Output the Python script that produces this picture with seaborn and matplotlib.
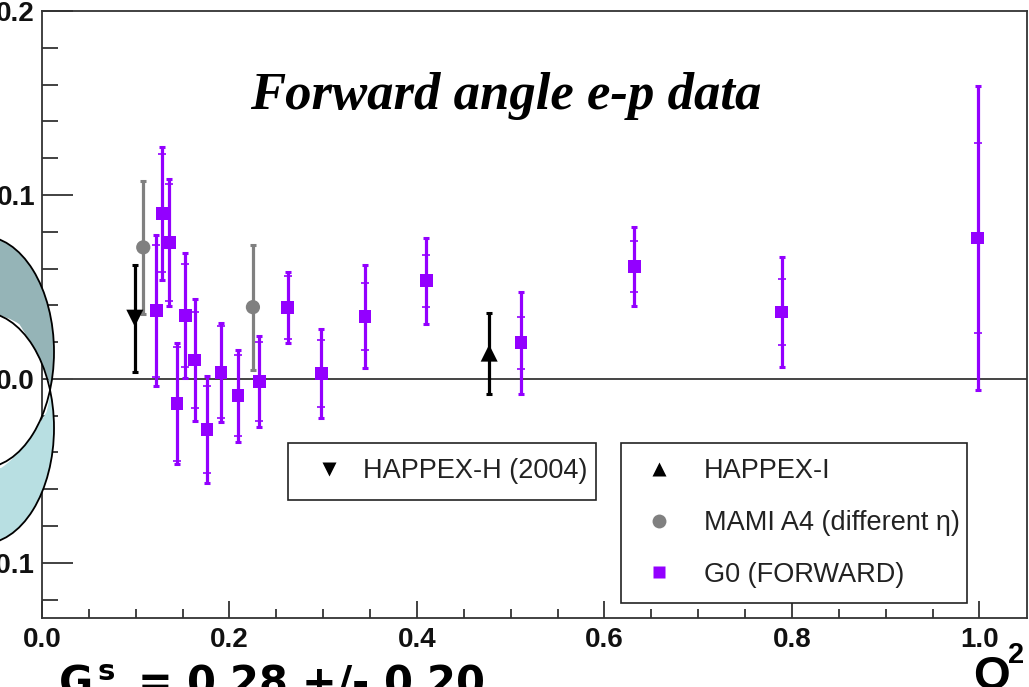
import numpy as np
import pandas as pd
import matplotlib
matplotlib.use("Agg")
import matplotlib.pyplot as plt
import seaborn as sns
from matplotlib.lines import Line2D
from matplotlib.patches import Ellipse, PathPatch
from matplotlib.path import Path

# ---- data: G_E^s + eta G_M^s versus Q^2 ----
happex_h_q2 = [0.099]
happex_h_val = [0.033]
happex_h_err = [0.029]

happex_i_q2 = [0.477]
happex_i_val = [0.014]
happex_i_err = [0.022]

mami_q2 = [0.108, 0.225]
mami_val = [0.0715, 0.039]
mami_err = [0.036, 0.034]

g0_q2 = [0.122, 0.128, 0.136, 0.144, 0.153, 0.163, 0.176, 0.191, 0.209,
         0.232, 0.262, 0.298, 0.3445, 0.410, 0.511, 0.632, 0.789, 0.998]
g0_val = [0.037, 0.090, 0.0742, -0.0134, 0.0346, 0.0103, -0.0276, 0.0036, -0.0091,
          -0.0016, 0.0389, 0.0029, 0.0339, 0.0533, 0.0196, 0.0609, 0.0364, 0.0766]
g0_tot = [0.041, 0.036, 0.0346, 0.033, 0.034, 0.033, 0.029, 0.027, 0.025,
          0.0247, 0.0192, 0.024, 0.028, 0.0235, 0.0277, 0.0214, 0.0298, 0.0826]
g0_stat = [0.036, 0.032, 0.032, 0.031, 0.028, 0.026, 0.0236, 0.025, 0.022,
           0.0215, 0.017, 0.018, 0.018, 0.014, 0.0142, 0.0139, 0.018, 0.0518]

x_ticks = [0.0, 0.2, 0.4, 0.6, 0.8, 1.0]
x_tick_labels = ["0.0", "0.2", "0.4", "0.6", "0.8", "1.0"]
y_ticks = [-0.1, 0.0, 0.1, 0.2]
y_tick_labels = ["-0.1", "0.0", "0.1", "0.2"]

legend_left = ["HAPPEX-H (2004)"]
legend_right = ["HAPPEX-I", "MAMI A4 (different \u03b7)", "G0 (FORWARD)"]
title_text = "Forward angle e-p data"
result_text = r"$\mathbf{G_M^{\,s}}$ = 0.28 +/- 0.20"

PURPLE = "#9300ff"
GREY = "#808080"

sns.set_theme(style="white")
plt.rcParams["font.family"] = ["Liberation Sans", "DejaVu Sans"]

W, H = 1029, 687
fig = plt.figure(figsize=(W / 100, H / 100), dpi=100)
fig.patch.set_facecolor("white")


def fx(px):
    return px / W


def fy(py):
    return 1 - py / H


ax = fig.add_axes([fx(42), fy(618), fx(1027) - fx(42), fy(11) - fy(618)])
ax.set_facecolor("none")
ax.set_xlim(0, 1.0507)
ax.set_ylim(-0.13, 0.2)

ax.axhline(0, color="#444444", lw=1.4, zorder=1)

# G0: total error with end caps, statistical error as inner ticks
ax.errorbar(g0_q2, g0_val, yerr=g0_tot, fmt="none", ecolor=PURPLE,
            elinewidth=2.3, capsize=2.2, capthick=2.2, zorder=3)
ax.errorbar(g0_q2, g0_val, yerr=g0_stat, fmt="none", ecolor=PURPLE,
            elinewidth=0, capsize=3.0, capthick=1.2, zorder=3)
ax.errorbar(mami_q2, mami_val, yerr=mami_err, fmt="none", ecolor=GREY,
            elinewidth=2.3, capsize=2.2, capthick=2.2, zorder=2)
ax.errorbar(happex_h_q2, happex_h_val, yerr=happex_h_err, fmt="none", ecolor="black",
            elinewidth=2.3, capsize=2.2, capthick=2.2, zorder=2)
ax.errorbar(happex_i_q2, happex_i_val, yerr=happex_i_err, fmt="none", ecolor="black",
            elinewidth=2.3, capsize=2.2, capthick=2.2, zorder=2)

sns.scatterplot(x=mami_q2, y=mami_val, ax=ax, marker="o", s=105, color=GREY,
                edgecolor="none", zorder=4, legend=False)
sns.scatterplot(x=happex_h_q2, y=happex_h_val, ax=ax, marker="v", s=150, color="black",
                edgecolor="none", zorder=4, legend=False)
sns.scatterplot(x=happex_i_q2, y=happex_i_val, ax=ax, marker="^", s=150, color="black",
                edgecolor="none", zorder=4, legend=False)
sns.scatterplot(x=g0_q2, y=g0_val, ax=ax, marker="s", s=85, color=PURPLE,
                edgecolor="none", zorder=5, legend=False)

# frame and ticks
for side in ["left", "bottom", "top", "right"]:
    ax.spines[side].set_visible(True)
    ax.spines[side].set_color("#333333")
    ax.spines[side].set_linewidth(1.3)

ax.set_xticks(x_ticks)
ax.set_xticklabels(x_tick_labels)
ax.set_yticks(y_ticks)
ax.set_yticklabels(y_tick_labels)
ax.set_xticks(np.arange(0.05, 1.05, 0.05)[[i for i in range(20) if (i + 1) % 4 != 0]], minor=True)
ax.set_yticks([v for v in np.arange(-0.12, 0.2, 0.02) if abs(round(v * 10) - v * 10) > 1e-6], minor=True)
ax.tick_params(axis="both", which="both", direction="in", color="#333333", width=1.3,
               bottom=True, left=True, top=False, right=False)
ax.tick_params(axis="x", which="major", length=12.5, pad=6.5)
ax.tick_params(axis="x", which="minor", length=6.5)
ax.tick_params(axis="y", which="major", length=22, pad=5)
ax.tick_params(axis="y", which="minor", length=11.5)
for lab in ax.get_xticklabels() + ax.get_yticklabels():
    lab.set_fontsize(20)
    lab.set_fontweight("bold")
    lab.set_color("#111111")
ax.grid(False)

# legends
LFS = 19.5
leg_kw = dict(frameon=True, fancybox=False, framealpha=1, edgecolor="#222222",
              fontsize=LFS, borderaxespad=0, mode="expand", loc="upper left",
              bbox_transform=fig.transFigure, borderpad=0.57)
h1 = [Line2D([], [], ls="none", marker="v", ms=10, color="black", mec="none")]
leg1 = ax.legend(h1, legend_left,
                 bbox_to_anchor=(fx(288), fy(443) - 0.2, fx(596) - fx(288), 0.2),
                 handlelength=1.92, handletextpad=0.29, **leg_kw)
leg1.get_frame().set_linewidth(1.2)
ax.add_artist(leg1)
h2 = [Line2D([], [], ls="none", marker="^", ms=10, color="black", mec="none"),
      Line2D([], [], ls="none", marker="o", ms=10, color=GREY, mec="none"),
      Line2D([], [], ls="none", marker="s", ms=8.5, color=PURPLE, mec="none")]
leg2 = ax.legend(h2, legend_right,
                 bbox_to_anchor=(fx(621), fy(443) - 0.4, fx(967) - fx(621), 0.4),
                 handlelength=1.7, handletextpad=0.79, labelspacing=0.95, **leg_kw)
leg2.get_frame().set_linewidth(1.2)
for leg in (leg1, leg2):
    for t in leg.get_texts():
        t.set_color("#222222")

# title inside the frame
fig.text(fx(506), fy(96), title_text, ha="center", va="center",
         family="Liberation Serif", weight="bold", style="italic", size=38, color="black")

# axis label Q^2 at the lower right
fig.text(fx(973), fy(689), "Q", ha="left", va="baseline", weight="bold", size=34, color="black")
fig.text(fx(1008), fy(663), "2", ha="left", va="baseline", weight="bold", size=21, color="black")

# result line below the axis
fig.text(fx(58), fy(663), result_text, ha="left", va="top", size=30,
         family="DejaVu Sans", weight="bold", color="black")

# two overlapping ovals at the left edge
a_w, a_h = 2 * 72, 2 * 116
ovA = Ellipse((fx(-18), fy(352)), fx(a_w), a_h / H, transform=fig.transFigure)
ovB = Ellipse((fx(-18), fy(428)), fx(a_w), a_h / H, transform=fig.transFigure)
pA = ovA.get_path().transformed(ovA.get_patch_transform())
pB = ovB.get_path().transformed(ovB.get_patch_transform())


def ring(p_keep, p_cut):
    v1 = p_keep.vertices
    v2 = p_cut.vertices[::-1]
    c1 = p_keep.codes
    c2 = p_cut.codes
    verts = np.concatenate([v1, v2])
    codes = np.concatenate([c1, c2[::-1]])
    codes[len(c1)] = Path.MOVETO
    codes[-1] = Path.CLOSEPOLY
    return Path(verts, codes)


darkA = PathPatch(ring(pA, pB), transform=fig.transFigure, facecolor="#95b4b7",
                  edgecolor="none", zorder=10)
clipA = Ellipse((fx(-18), fy(352)), fx(a_w), a_h / H, transform=fig.transFigure)
fig.add_artist(darkA)
darkA.set_clip_path(clipA)
lightB = PathPatch(ring(pB, pA), transform=fig.transFigure, facecolor="#b8dfe2",
                   edgecolor="none", zorder=10)
clipB = Ellipse((fx(-18), fy(428)), fx(a_w), a_h / H, transform=fig.transFigure)
fig.add_artist(lightB)
lightB.set_clip_path(clipB)
for cy in (352, 428):
    fig.add_artist(Ellipse((fx(-18), fy(cy)), fx(a_w), a_h / H, transform=fig.transFigure,
                           facecolor="none", edgecolor="black", lw=1.3, zorder=11))

fig.savefig("out.png", dpi=100)
